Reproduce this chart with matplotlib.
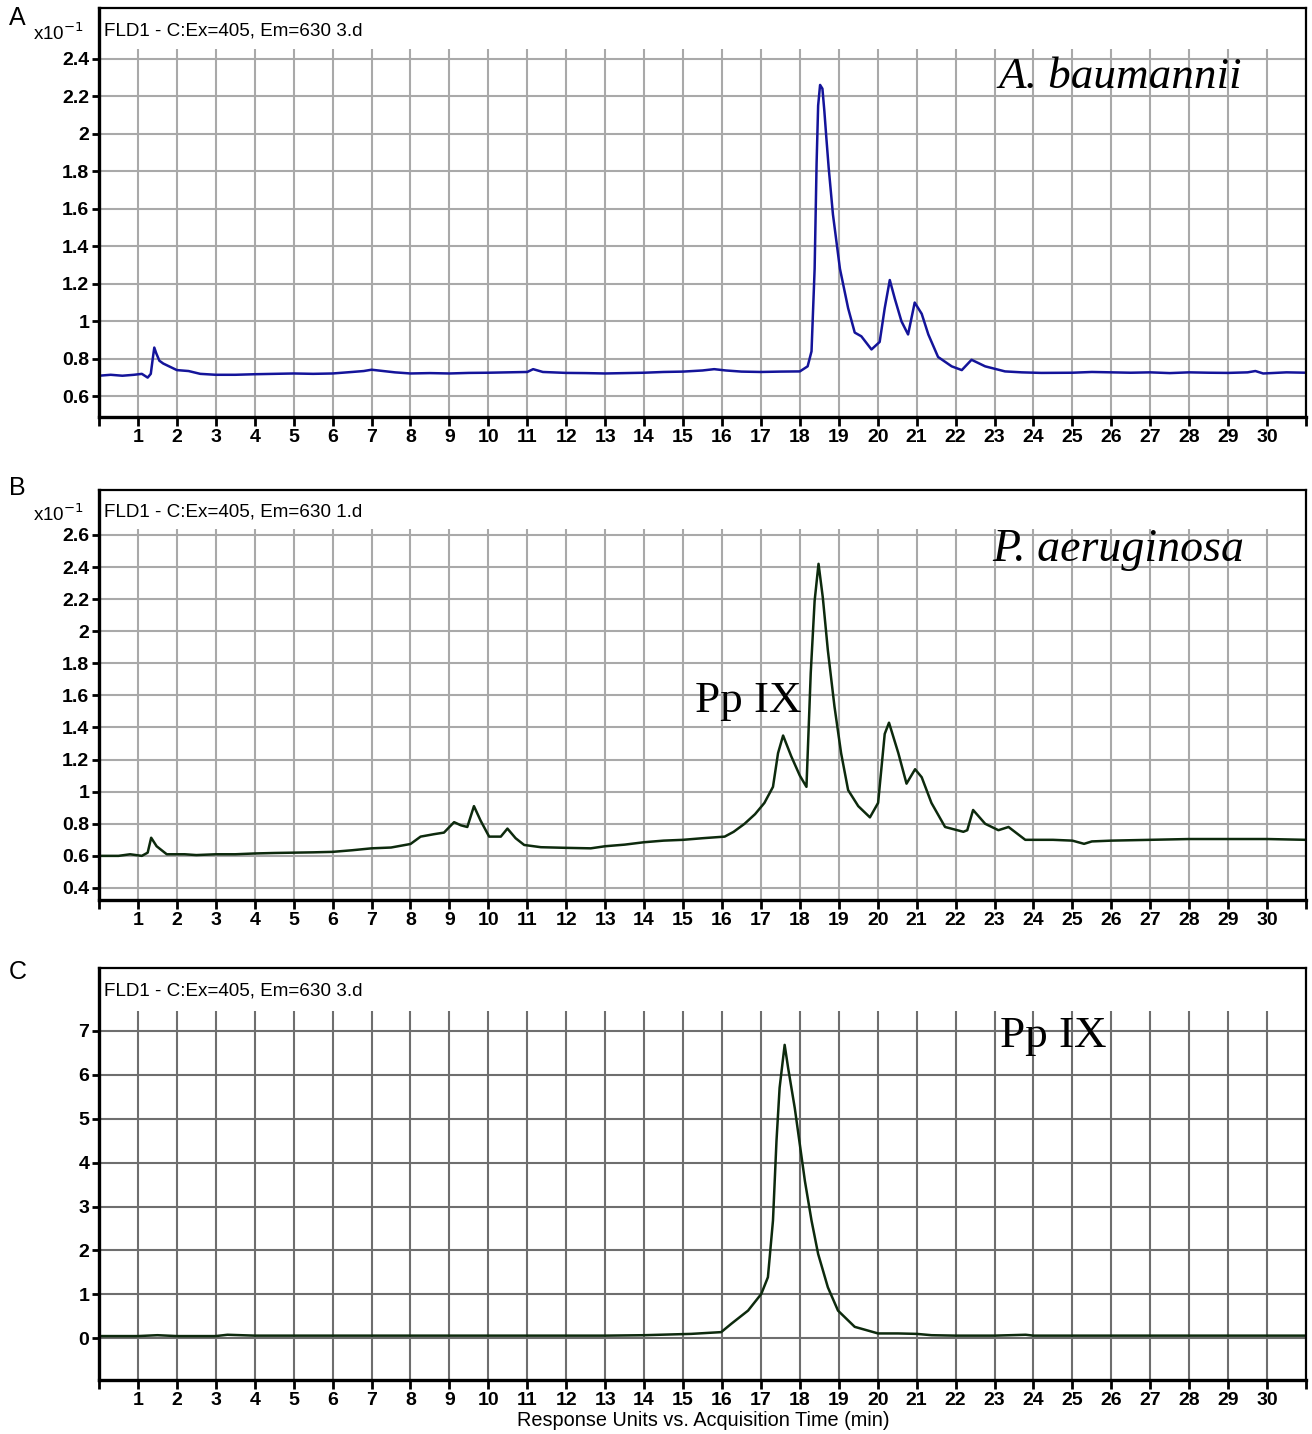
import matplotlib
import matplotlib.pyplot as plt

matplotlib.use('Agg')  # no display

# Chromatogram traces (time in min, response units)
# Panel A - A. baumannii (x10^-1)
A_time = [0.0, 0.3, 0.6, 0.9, 1.1, 1.25, 1.33, 1.38, 1.42, 1.47, 1.55, 1.65, 1.8, 2.0, 2.3, 2.6,
          3.0, 3.5, 4.0, 4.5, 5.0, 5.5, 6.0, 6.5, 6.8, 7.0, 7.3, 7.6, 8.0, 8.5, 9.0, 9.5,
          10.0, 10.5, 11.0, 11.15, 11.4, 12.0, 12.5, 13.0, 13.5, 14.0, 14.5, 15.0, 15.5, 15.8,
          16.1, 16.5, 17.0, 17.5, 18.0, 18.2, 18.3, 18.38, 18.43, 18.47, 18.52, 18.58, 18.63,
          18.68, 18.74, 18.85, 19.03, 19.24, 19.41, 19.58, 19.84, 20.05, 20.18, 20.31, 20.44,
          20.61, 20.78, 20.95, 21.13, 21.3, 21.55, 21.9, 22.16, 22.41, 22.76, 23.27, 23.7, 24.2,
          25.0, 25.5, 26.0, 26.5, 27.0, 27.5, 28.0, 28.5, 29.0, 29.5, 29.7, 29.9, 30.5, 31.0]
A_value = [0.71, 0.715, 0.71, 0.715, 0.72, 0.70, 0.72, 0.80, 0.86, 0.83, 0.79, 0.775, 0.76, 0.74, 0.735, 0.72,
           0.715, 0.715, 0.718, 0.72, 0.722, 0.72, 0.722, 0.73, 0.735, 0.742, 0.735, 0.728, 0.722, 0.724, 0.722, 0.725,
           0.726, 0.728, 0.73, 0.745, 0.73, 0.725, 0.724, 0.722, 0.724, 0.726, 0.73, 0.732, 0.738, 0.745,
           0.738, 0.732, 0.73, 0.732, 0.733, 0.76, 0.84, 1.28, 1.84, 2.15, 2.26, 2.24, 2.12,
           1.98, 1.82, 1.57, 1.28, 1.07, 0.94, 0.92, 0.85, 0.89, 1.07, 1.22, 1.12,
           1.0, 0.93, 1.10, 1.04, 0.93, 0.81, 0.76, 0.74, 0.795, 0.76, 0.733, 0.728, 0.725,
           0.726, 0.73, 0.728, 0.726, 0.728, 0.724, 0.728, 0.726, 0.725, 0.728, 0.735, 0.722, 0.728, 0.726]

# Panel B - P. aeruginosa (x10^-1)
B_time = [0.0, 0.5, 0.8, 1.1, 1.25, 1.34, 1.48, 1.74, 2.2, 2.5, 3.0, 3.5, 4.0, 4.5, 5.0, 5.5,
          6.0, 6.5, 7.0, 7.5, 8.0, 8.26, 8.6, 8.86, 9.12, 9.3, 9.46, 9.63, 9.8, 10.02, 10.32,
          10.49, 10.7, 10.92, 11.35, 12.0, 12.63, 13.0, 13.5, 14.0, 14.5, 15.0, 15.5, 16.07,
          16.3, 16.58, 16.85, 17.09, 17.31, 17.44, 17.57, 17.78, 18.0, 18.17, 18.28, 18.38,
          18.48, 18.59, 18.72, 18.89, 19.06, 19.24, 19.5, 19.8, 20.01, 20.18, 20.29, 20.53,
          20.74, 20.96, 21.13, 21.38, 21.73, 22.2, 22.3, 22.45, 22.76, 23.1, 23.36, 23.79,
          24.5, 25.0, 25.3, 25.5, 26.0, 27.0, 28.0, 29.0, 30.0, 31.0]
B_value = [0.60, 0.60, 0.61, 0.60, 0.62, 0.713, 0.66, 0.61, 0.61, 0.605, 0.61, 0.61, 0.615, 0.618, 0.62, 0.622,
           0.625, 0.635, 0.647, 0.652, 0.674, 0.72, 0.735, 0.745, 0.81, 0.79, 0.78, 0.91, 0.82, 0.72, 0.72,
           0.77, 0.71, 0.668, 0.654, 0.65, 0.647, 0.66, 0.67, 0.685, 0.695, 0.70, 0.71, 0.72,
           0.75, 0.80, 0.86, 0.93, 1.03, 1.24, 1.35, 1.22, 1.10, 1.03, 1.74, 2.19,
           2.42, 2.21, 1.88, 1.53, 1.24, 1.01, 0.91, 0.84, 0.93, 1.36, 1.43, 1.24,
           1.05, 1.14, 1.09, 0.93, 0.78, 0.75, 0.76, 0.886, 0.80, 0.76, 0.78, 0.70,
           0.70, 0.695, 0.675, 0.69, 0.695, 0.70, 0.705, 0.705, 0.705, 0.70]

# Panel C - Pp IX standard
C_time = [0.0, 1.0, 1.5, 2.0, 3.0, 3.3, 4.0, 5.0, 6.0, 7.0, 8.0, 9.0, 10.0, 11.0, 12.0, 13.0,
          14.0, 15.21, 15.98, 16.24, 16.67, 17.01, 17.18, 17.31, 17.4, 17.48, 17.61, 17.7,
          17.87, 18.0, 18.13, 18.3, 18.47, 18.72, 18.98, 19.41, 20.01, 20.52, 21.0, 21.38,
          22.0, 23.0, 23.8, 24.0, 25.0, 26.0, 27.0, 28.0, 29.0, 30.0, 31.0]
C_value = [0.05, 0.05, 0.07, 0.05, 0.05, 0.08, 0.06, 0.06, 0.06, 0.06, 0.06, 0.06, 0.06, 0.06, 0.06, 0.06,
           0.07, 0.10, 0.14, 0.33, 0.63, 1.01, 1.39, 2.68, 4.49, 5.70, 6.68, 6.15,
           5.24, 4.41, 3.58, 2.68, 1.92, 1.16, 0.63, 0.26, 0.11, 0.11, 0.10, 0.07,
           0.06, 0.06, 0.08, 0.06, 0.06, 0.06, 0.06, 0.06, 0.06, 0.06, 0.06]

A_yticks = [0.6, 0.8, 1.0, 1.2, 1.4, 1.6, 1.8, 2.0, 2.2, 2.4]
B_yticks = [0.4, 0.6, 0.8, 1.0, 1.2, 1.4, 1.6, 1.8, 2.0, 2.2, 2.4, 2.6]
C_yticks = [0, 1, 2, 3, 4, 5, 6, 7]

SANS = 'Liberation Sans'
SERIF = 'Liberation Serif'

W, H = 1312, 1434


def px(x, y):
    # pixel position -> figure fraction
    return x / W, 1 - y / H


def setup_axes(fig, top, bottom, ylim, yticks, grid_top, grid_color):
    ax = fig.add_axes([99 / W, 1 - bottom / H, (1306 - 99) / W, (bottom - top) / H])
    ax.set_xlim(0, 31)
    ax.set_ylim(*ylim)

    # grid: horizontal at every y tick, vertical stops under the header line
    ax.hlines(yticks, 0, 31, color=grid_color, lw=1.5, zorder=0)
    ax.vlines(range(1, 31), ylim[0], grid_top, color=grid_color, lw=1.5, zorder=0)

    ax.set_xticks(range(0, 32))
    ax.set_xticklabels(['' if i in (0, 31) else str(i) for i in range(0, 32)])
    ax.set_yticks(yticks)
    ax.set_yticklabels([f"{v:g}" for v in yticks])
    ax.tick_params(axis='x', direction='out', length=6.5, width=2, pad=2, labelsize=14)
    ax.tick_params(axis='y', direction='out', length=5, width=2, pad=2, labelsize=14)
    for lab in ax.get_xticklabels() + ax.get_yticklabels():
        lab.set_fontfamily(SANS)
        lab.set_fontweight('bold')

    ax.spines['left'].set_linewidth(2.4)
    ax.spines['bottom'].set_linewidth(2.4)
    ax.spines['top'].set_linewidth(1.6)
    ax.spines['right'].set_linewidth(1.6)
    return ax


fig = plt.figure(figsize=(W / 100, H / 100), dpi=100)

# Panel A
axA = setup_axes(fig, 8, 417, (0.49, 2.67), A_yticks, 2.45, '#a9a9a9')
axA.plot(A_time, A_value, color='#14149a', lw=1.8)

# Panel B
axB = setup_axes(fig, 490, 900, (0.325, 2.88), B_yticks, 2.64, '#a9a9a9')
axB.plot(B_time, B_value, color='#0d2a0d', lw=1.8)

# Panel C
axC = setup_axes(fig, 968, 1380, (-0.95, 8.43), C_yticks, 7.45, '#6e6e6e')
axC.plot(C_time, C_value, color='#0d2a0d', lw=1.8)

# Panel letters, header lines and scale labels
for letter, y in [('A', 18), ('B', 488), ('C', 972)]:
    fig.text(*px(9, y), letter, fontsize=18, family=SANS, va='center', ha='left')

for txt, y in [('FLD1 - C:Ex=405, Em=630 3.d', 31),
               ('FLD1 - C:Ex=405, Em=630 1.d', 512),
               ('FLD1 - C:Ex=405, Em=630 3.d', 991)]:
    fig.text(*px(104, y), txt, fontsize=13.6, family=SANS, va='center', ha='left')

for y in (33, 514):
    fig.text(*px(33, y), r'x10$^{-1}$', fontsize=13.6, family=SANS, va='center', ha='left')

# Annotations
fig.text(*px(998, 88), 'A. baumannii', fontsize=32.5, family=SERIF, style='italic', va='baseline')
fig.text(*px(992, 561), 'P. aeruginosa', fontsize=33, family=SERIF, style='italic', va='baseline')
fig.text(*px(695, 712), 'Pp IX', fontsize=32.5, family=SERIF, va='baseline')
fig.text(*px(1000, 1047), 'Pp IX', fontsize=32.5, family=SERIF, va='baseline')

fig.text(*px(703, 1420), 'Response Units vs. Acquisition Time (min)', fontsize=14.3,
         family=SANS, ha='center', va='center')

fig.savefig('out.png', dpi=100)
